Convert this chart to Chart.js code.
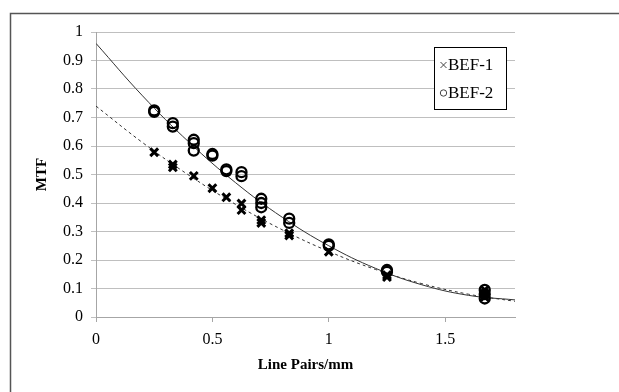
<!DOCTYPE html>
<html>
<head>
<meta charset="utf-8">
<script src="https://cdn.jsdelivr.net/npm/chart.js@4/dist/chart.umd.min.js"></script>
<style>
html,body{margin:0;padding:0;background:#fff;}
#wrap{width:619px;height:392px;position:relative;}
</style>
</head>
<body>
<div id="wrap"><canvas id="c" width="619" height="392"></canvas></div>
<script>
// ---- data ----
const seriesNames = ['BEF-1', 'BEF-2'];
const bef1X = [0.25,0.33,0.33,0.42,0.5,0.56,0.625,0.625,0.71,0.71,0.83,0.83,1.0,1.25,1.25,1.67,1.67,1.67];
const bef1Y = [0.578,0.535,0.525,0.495,0.452,0.42,0.398,0.375,0.34,0.33,0.294,0.286,0.229,0.147,0.14,0.095,0.08,0.07];
const bef2X = [0.25,0.25,0.33,0.33,0.42,0.42,0.42,0.5,0.5,0.56,0.56,0.625,0.625,0.71,0.71,0.71,0.83,0.83,1.0,1.0,1.25,1.25,1.67,1.67,1.67];
const bef2Y = [0.725,0.72,0.68,0.668,0.622,0.61,0.584,0.572,0.566,0.518,0.512,0.508,0.494,0.415,0.4,0.385,0.345,0.33,0.255,0.25,0.165,0.158,0.095,0.08,0.065];
// trend curves, read at a few x positions
const trendX = [0,0.2,0.4,0.6,0.8,1.0,1.2,1.4,1.6,1.8];
const trend1Y = [0.74,0.612,0.497,0.395,0.306,0.23,0.167,0.117,0.08,0.055];
const trend2Y = [0.96,0.776,0.613,0.471,0.35,0.25,0.171,0.113,0.076,0.06];
const xTickValues = [0,0.5,1,1.5];
const xTitle = 'Line Pairs/mm';
const yTitle = 'MTF';

const pts = (xs, ys) => xs.map((x,i)=>({x:x, y:ys[i]}));
const FONT = '"Liberation Serif", "Times New Roman", serif';

const framePlugin = {
  id:'frame',
  beforeDraw(chart){
    const ctx = chart.ctx;
    ctx.save();
    ctx.fillStyle='#fff';
    ctx.fillRect(0,0,chart.width,chart.height);
    ctx.strokeStyle='#555';
    ctx.lineWidth=1.5;
    ctx.strokeRect(10.5,13.5,700,500);
    ctx.restore();
  }
};

const legendPlugin = {
  id:'boxLegend',
  afterDraw(chart){
    const ctx = chart.ctx;
    const x0=434.5, y0=47.5, w=72, h=62;
    ctx.save();
    ctx.fillStyle='#fff';
    ctx.fillRect(x0,y0,w,h);
    ctx.strokeStyle='#000';
    ctx.lineWidth=1;
    ctx.strokeRect(x0,y0,w,h);
    ctx.font='17px '+FONT;
    ctx.fillStyle='#000';
    ctx.textBaseline='middle';
    ctx.textAlign='left';
    // BEF-1
    let cy=65, cx=443.5;
    ctx.strokeStyle='#444';
    ctx.lineWidth=1;
    ctx.beginPath();
    ctx.moveTo(cx-3,cy-3);ctx.lineTo(cx+3,cy+3);
    ctx.moveTo(cx+3,cy-3);ctx.lineTo(cx-3,cy+3);
    ctx.stroke();
    ctx.fillText(chart.data.datasets[2].label,448,cy+1);
    // BEF-2
    cy=93;
    ctx.beginPath();
    ctx.arc(cx,cy,3.2,0,Math.PI*2);
    ctx.stroke();
    ctx.fillText(chart.data.datasets[3].label,448,cy+1);
    ctx.restore();
  }
};

new Chart(document.getElementById('c'), {
  type:'scatter',
  data:{
    datasets:[
      {type:'line', label:'trend1', data:pts(trendX,trend1Y), borderColor:'#333', borderWidth:1, borderDash:[3,3], pointRadius:0, tension:0.4, fill:false, order:3},
      {type:'line', label:'trend2', data:pts(trendX,trend2Y), borderColor:'#333', borderWidth:1, pointRadius:0, tension:0.4, fill:false, order:3},
      {label:seriesNames[0], data:pts(bef1X,bef1Y), pointStyle:'crossRot', pointRadius:5.5, borderColor:'#000', borderWidth:3, backgroundColor:'#000', order:1},
      {label:seriesNames[1], data:pts(bef2X,bef2Y), pointStyle:'circle', pointRadius:5, borderColor:'#000', borderWidth:2.3, backgroundColor:'rgba(0,0,0,0)', order:2}
    ]
  },
  options:{
    responsive:false,
    animation:false,
    layout:{padding:{left:0,top:32,right:104,bottom:0}},
    plugins:{legend:{display:false}, tooltip:{enabled:false}},
    scales:{
      x:{
        type:'linear', min:0, max:1.8,
        afterFit(s){ s.height=75; },
        afterBuildTicks(s){ s.ticks = xTickValues.map(v=>({value:v})); },
        ticks:{font:{family:FONT,size:16}, color:'#000', padding:8, maxRotation:0,
               callback:(v)=>String(v)},
        grid:{drawOnChartArea:false, drawTicks:true, tickLength:5, color:'#a6a6a6'},
        border:{color:'#a6a6a6', width:1},
        title:{display:true, text:xTitle, font:{family:FONT,size:15,weight:'bold'}, color:'#000', padding:{top:0,bottom:18}}
      },
      y:{
        type:'linear', min:0, max:1,
        afterFit(s){ s.width=96; },
        ticks:{stepSize:0.1, font:{family:FONT,size:16}, color:'#000', padding:8,
               callback:(v)=>String(Math.round(v*10)/10)},
        grid:{color:'#bfbfbf', lineWidth:1, drawTicks:true, tickLength:5},
        border:{color:'#a6a6a6', width:1},
        title:{display:true, text:yTitle, font:{family:FONT,size:15,weight:'bold'}, color:'#000', padding:{top:33,bottom:0}}
      }
    }
  },
  plugins:[framePlugin, legendPlugin]
});
</script>
</body>
</html>
